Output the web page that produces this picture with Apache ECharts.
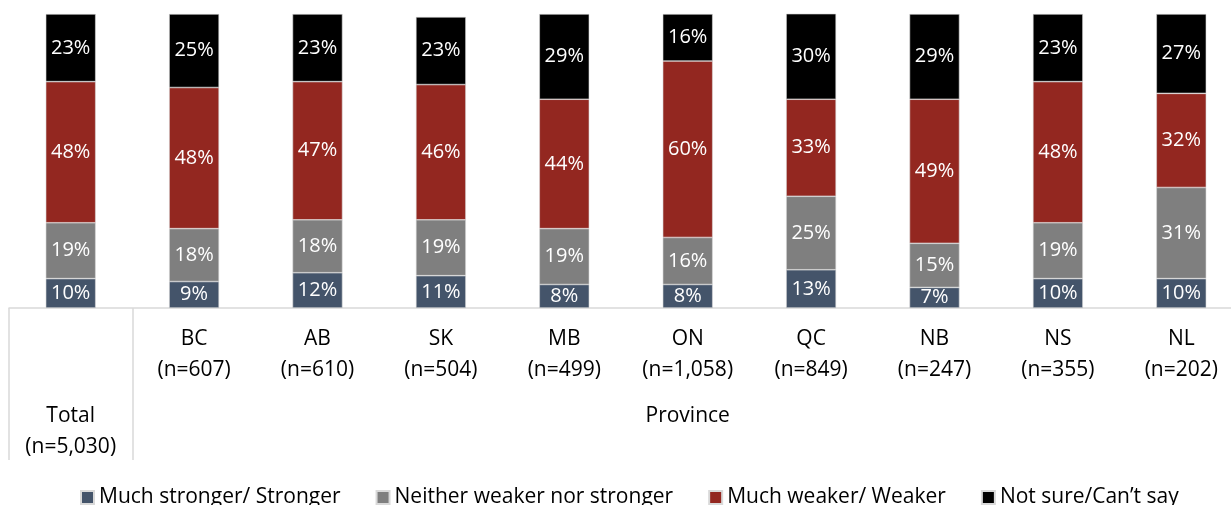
<!DOCTYPE html>
<html>
<head>
<meta charset="utf-8">
<script src="https://cdn.jsdelivr.net/npm/echarts@6/dist/echarts.min.js"></script>
<style>
  html, body { margin: 0; padding: 0; background: #fff; overflow: hidden; }
  /* the plot runs a little past the right edge of the window */
  #chart { width: 1246px; height: 505px; }
</style>
</head>
<body>
<div id="chart"></div>
<script>
// Region names and sample sizes
const regions = ['Total', 'BC', 'AB', 'SK', 'MB', 'ON', 'QC', 'NB', 'NS', 'NL'];
const sampleSizes = ['5,030', '607', '610', '504', '499', '1,058', '849', '247', '355', '202'];
const groupLabel = 'Province';

// Responses, in percent
const stronger = [10, 9, 12, 11, 8, 8, 13, 7, 10, 10];
const neither  = [19, 18, 18, 19, 19, 16, 25, 15, 19, 31];
const weaker   = [48, 48, 47, 46, 44, 60, 33, 49, 48, 32];
const notSure  = [23, 25, 23, 23, 29, 16, 30, 29, 23, 27];

const seriesNames = ['Much stronger/ Stronger', 'Neither weaker nor stronger', 'Much weaker/ Weaker', 'Not sure/Can\u2019t say'];
const seriesColors = ['#44546a', '#7f7f7f', '#932720', '#000000'];

const FONT = "'Open Sans', 'Noto Sans', sans-serif";

function makeSeries(name, values, color) {
  return {
    name: name,
    type: 'bar',
    stack: 'all',
    barWidth: 50,
    data: values,
    itemStyle: { color: color, borderColor: '#d9d9d9', borderWidth: 0.6 },
    label: {
      show: true,
      position: 'inside',
      formatter: '{c}%',
      color: '#ffffff',
      fontFamily: FONT,
      fontSize: 20
    }
  };
}

const chart = echarts.init(document.getElementById('chart'), null, { renderer: 'canvas' });

chart.setOption({
  animation: false,
  backgroundColor: '#ffffff',
  grid: { left: 9, top: 14, width: 1234, height: 294, containLabel: false },
  legend: {
    left: 75,
    top: 482,
    itemWidth: 13,
    itemHeight: 13,
    itemGap: 35,
    icon: 'rect',
    textStyle: { fontFamily: FONT, fontSize: 21, color: '#000', padding: [0, 0, 0, 0] },
    data: seriesNames
  },
  xAxis: {
    type: 'category',
    data: regions,
    axisLine: { show: true, lineStyle: { color: '#d9d9d9', width: 1.5 } },
    axisTick: {
      show: true,
      length: 152,
      interval: function (index) { return index <= 1; },
      lineStyle: { color: '#d9d9d9', width: 1.5 }
    },
    axisLabel: {
      interval: 0,
      margin: 16,
      fontFamily: FONT,
      fontSize: 21,
      color: '#000',
      formatter: function (value, index) {
        const n = '(n=' + sampleSizes[index] + ')';
        if (index === 0) {
          return '{g|}\n{a|' + value + '}\n{a|' + n + '}';
        }
        if (index === 5) {
          return '{a|' + value + '}\n{a|' + n + '}\n{p|' + groupLabel + '}';
        }
        return '{a|' + value + '}\n{a|' + n + '}';
      },
      rich: {
        a: { fontFamily: FONT, fontSize: 21, color: '#000', lineHeight: 31 },
        p: { fontFamily: FONT, fontSize: 21, color: '#000', lineHeight: 61 },
        g: { fontSize: 21, lineHeight: 77 }
      }
    }
  },
  yAxis: {
    type: 'value',
    min: 0,
    max: 100,
    show: false,
    splitLine: { show: false }
  },
  series: [
    makeSeries(seriesNames[0], stronger, seriesColors[0]),
    makeSeries(seriesNames[1], neither, seriesColors[1]),
    makeSeries(seriesNames[2], weaker, seriesColors[2]),
    makeSeries(seriesNames[3], notSure, seriesColors[3])
  ]
});
</script>
</body>
</html>
